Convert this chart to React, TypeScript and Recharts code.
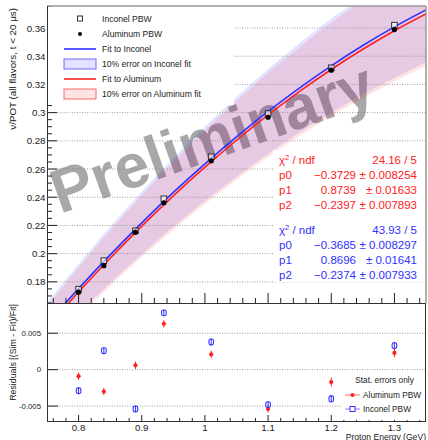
import React from 'react';
import {
  ComposedChart,
  Area,
  Line,
  Scatter,
  ErrorBar,
  XAxis,
  YAxis,
  ReferenceLine,
} from 'recharts';

// measured points
const energies = [0.8, 0.84, 0.89, 0.935, 1.01, 1.1, 1.2, 1.3];
const inconelYield = [0.1748, 0.195, 0.2162, 0.2389, 0.2687, 0.2994, 0.3318, 0.362];
const aluminumYield = [0.1727, 0.1915, 0.2151, 0.2361, 0.2658, 0.2967, 0.3301, 0.3589];
const inconelResidual = [-0.0029, 0.0026, -0.0054, 0.0078, 0.0038, -0.0048, -0.004, 0.0033];
const inconelResidualErr = [0.0004, 0.0004, 0.0004, 0.0004, 0.0005, 0.0005, 0.0005, 0.0005];
const aluminumResidual = [-0.0009, -0.003, 0.0006, 0.0063, 0.0021, -0.0054, -0.0017, 0.0023];
const aluminumResidualErr = [0.0005, 0.0005, 0.0005, 0.0005, 0.0005, 0.0005, 0.0006, 0.0006];

// fit curves
const fitEnergies = [0.75, 0.8, 0.85, 0.9, 0.95, 1.0, 1.05, 1.1, 1.15, 1.2, 1.25, 1.3, 1.35];
const inconelFit = [0.1502, 0.1752, 0.1991, 0.2218, 0.2434, 0.2637, 0.2828, 0.3008, 0.3176, 0.3332, 0.3476, 0.3608, 0.3728];
const aluminumFit = [0.1477, 0.1728, 0.1967, 0.2195, 0.241, 0.2613, 0.2804, 0.2984, 0.3151, 0.3306, 0.3449, 0.3581, 0.37];
const bandFraction = 0.1;

// fit results
const paramNames = ['p0', 'p1', 'p2'];
const aluminumChi2 = '24.16 / 5';
const aluminumParams = ['\u22120.3729', '0.8739', '\u22120.2397'];
const aluminumParamErrs = ['0.008254', '0.01633', '0.007893'];
const inconelChi2 = '43.93 / 5';
const inconelParams = ['\u22120.3685', '0.8696', '\u22120.2374'];
const inconelParamErrs = ['0.008297', '0.01641', '0.007933'];

// axes
const xMajorTicks = [0.8, 0.9, 1.0, 1.1, 1.2, 1.3];
const topYMajorTicks = [0.18, 0.2, 0.22, 0.24, 0.26, 0.28, 0.3, 0.32, 0.34, 0.36];
const resYMajorTicks = [-0.005, 0, 0.005];

const steps = (from: number, to: number, step: number) => {
  const out: number[] = [];
  for (let v = from; v <= to + 1e-9; v += step) out.push(Number(v.toFixed(4)));
  return out;
};
const xTicks = steps(0.76, 1.34, 0.02);
const topYTicks = steps(0.165, 0.375, 0.005);

const FONT = '"Liberation Sans", Arial, Helvetica, sans-serif';
const BLUE = '#3030ff';
const RED = '#ff2020';
const PL = 47;
const PR = 426;

const isMajor = (list: number[], v: number) => list.some((m) => Math.abs(m - v) < 1e-6);
const fmt = (v: number) => String(Number(v.toFixed(4)));

const fitRows = fitEnergies.map((x, i) => ({
  x,
  fi: inconelFit[i],
  fa: aluminumFit[i],
  iBand: [inconelFit[i] * (1 - bandFraction), inconelFit[i] * (1 + bandFraction)],
  aBand: [aluminumFit[i] * (1 - bandFraction), aluminumFit[i] * (1 + bandFraction)],
}));
const inconelRows = energies.map((x, i) => ({ x, y: inconelYield[i] }));
const aluminumRows = energies.map((x, i) => ({ x, y: aluminumYield[i] }));
const inconelResRows = energies.map((x, i) => ({ x, y: inconelResidual[i], err: inconelResidualErr[i] }));
const aluminumResRows = energies.map((x, i) => ({ x, y: aluminumResidual[i], err: aluminumResidualErr[i] }));

const TopXTick = (p: any) => {
  const major = isMajor(xMajorTicks, p.payload.value);
  return <line x1={p.x} x2={p.x} y1={303} y2={303 - (major ? 10 : 5)} stroke="#222" />;
};

const TopYTick = (p: any) => {
  const v = p.payload.value;
  const major = isMajor(topYMajorTicks, v);
  return (
    <g>
      <line x1={PL} x2={PL + (major ? 10 : 5)} y1={p.y} y2={p.y} stroke="#222" />
      {major && (
        <text x={45.5} y={p.y + 3.5} textAnchor="end" fontSize={9.7} fontFamily={FONT} fill="#222">
          {fmt(v)}
        </text>
      )}
    </g>
  );
};

const BottomXTick = (p: any) => {
  const v = p.payload.value;
  const major = isMajor(xMajorTicks, v);
  return (
    <g>
      <line x1={p.x} x2={p.x} y1={118} y2={118 - (major ? 6 : 3)} stroke="#222" />
      {major && (
        <text x={p.x} y={127.5} textAnchor="middle" fontSize={9.7} fontFamily={FONT} fill="#222">
          {fmt(v)}
        </text>
      )}
    </g>
  );
};

const ResYTick = (p: any) => (
  <g>
    <line x1={PL} x2={PL + 11} y1={p.y} y2={p.y} stroke="#222" />
    <text x={41} y={p.y + 2.8} textAnchor="end" fontSize={7.8} fontFamily={FONT} fill="#222">
      {fmt(p.payload.value)}
    </text>
  </g>
);

const OpenSquare = (p: any) => (
  <rect x={p.cx - 2.8} y={p.cy - 2.8} width={5.6} height={5.6} fill="#fff" fillOpacity={0.6} stroke="#333" strokeWidth={1} />
);
const BlackDot = (p: any) => <circle cx={p.cx} cy={p.cy} r={2.6} fill="#000" />;
const RedDot = (p: any) => <circle cx={p.cx} cy={p.cy} r={2.1} fill={RED} />;
const BlueSquare = (p: any) => (
  <rect x={p.cx - 2.3} y={p.cy - 2.9} width={4.6} height={5.8} rx={1.8} fill="none" stroke={BLUE} strokeWidth={1.1} />
);

const StatBox = ({ top, color, chi2, values, errs }: any) => (
  <g fontFamily={FONT} fontSize={11.5} fill={color}>
    <rect x={273} y={top - 10} width={153} height={62} fill="#fff" />
    <text x={279} y={top + 4}>
      {'\u03c7'}
      <tspan dy={-4} fontSize={7.5}>2</tspan>
      <tspan dy={4}> / ndf</tspan>
    </text>
    <text x={417} y={top + 4} textAnchor="end">{chi2}</text>
    {paramNames.map((n, i) => (
      <g key={n}>
        <text x={279} y={top + 19 + i * 15}>{n}</text>
        <text x={356} y={top + 19 + i * 15} textAnchor="end">{values[i]}</text>
        <text x={417} y={top + 19 + i * 15} textAnchor="end">{'\u00b1 ' + errs[i]}</text>
      </g>
    ))}
  </g>
);

export default function App() {
  return (
    <div style={{ position: 'fixed', left: 0, top: 0, width: 428, height: 440, background: '#fff', overflow: 'hidden' }}>
      <div style={{ position: 'absolute', left: 0, top: 0 }}>
        <ComposedChart width={428} height={304} data={fitRows} margin={{ top: 6, right: 2, bottom: 0, left: 0 }}>
          <XAxis
            type="number"
            dataKey="x"
            domain={[0.75, 1.35]}
            allowDataOverflow
            ticks={xTicks}
            interval={0}
            height={1}
            axisLine={false}
            tickLine={false}
            tick={(p: any) => <TopXTick {...p} />}
          />
          <YAxis
            type="number"
            domain={[0.165, 0.3756]}
            allowDataOverflow
            ticks={topYTicks}
            interval={0}
            width={47}
            axisLine={false}
            tickLine={false}
            tick={(p: any) => <TopYTick {...p} />}
          />
          <Area dataKey="iBand" type="monotone" stroke="none" fill="#0000ff" fillOpacity={0.11} dot={false} activeDot={false} isAnimationActive={false} />
          <Area dataKey="aBand" type="monotone" stroke="none" fill="#ff0000" fillOpacity={0.11} dot={false} activeDot={false} isAnimationActive={false} />
          {topYMajorTicks.map((v) => (
            <ReferenceLine key={v} y={v} stroke="#888" strokeDasharray="1 1.5" strokeWidth={0.8} />
          ))}
          <text
            x={60}
            y={214}
            transform="rotate(-19.5 60 214)"
            fontSize={62}
            fontWeight="bold"
            fontFamily={FONT}
            fill="#a8a8a8"
          >
            Preliminary
          </text>
          <Line dataKey="fi" type="monotone" stroke={BLUE} strokeWidth={1.6} dot={false} activeDot={false} isAnimationActive={false} />
          <Line dataKey="fa" type="monotone" stroke={RED} strokeWidth={1.6} dot={false} activeDot={false} isAnimationActive={false} />
          <Scatter data={inconelRows} dataKey="y" shape={OpenSquare} isAnimationActive={false} />
          <Scatter data={aluminumRows} dataKey="y" shape={BlackDot} isAnimationActive={false} />
        </ComposedChart>
      </div>

      <div style={{ position: 'absolute', left: 0, top: 303 }}>
        <ComposedChart width={428} height={137} margin={{ top: 0, right: 2, bottom: 0, left: 0 }}>
          <XAxis
            type="number"
            dataKey="x"
            domain={[0.75, 1.35]}
            allowDataOverflow
            ticks={xTicks}
            interval={0}
            height={19}
            axisLine={false}
            tickLine={false}
            tick={(p: any) => <BottomXTick {...p} />}
          />
          <YAxis
            type="number"
            domain={[-0.00705, 0.00915]}
            allowDataOverflow
            ticks={resYMajorTicks}
            interval={0}
            width={47}
            axisLine={false}
            tickLine={false}
            tick={(p: any) => <ResYTick {...p} />}
          />
          {resYMajorTicks.map((v) => (
            <ReferenceLine key={v} y={v} stroke="#888" strokeDasharray="1 1.5" strokeWidth={0.8} />
          ))}
          <Scatter data={aluminumResRows} dataKey="y" shape={RedDot} isAnimationActive={false}>
            <ErrorBar dataKey="err" direction="y" width={0} stroke={RED} strokeWidth={1} />
          </Scatter>
          <Scatter data={inconelResRows} dataKey="y" shape={BlueSquare} isAnimationActive={false}>
            <ErrorBar dataKey="err" direction="y" width={0} stroke={BLUE} strokeWidth={1} />
          </Scatter>
        </ComposedChart>
      </div>

      <svg width={428} height={440} style={{ position: 'absolute', left: 0, top: 0, pointerEvents: 'none' }}>
        {/* top legend */}
        <rect x={48} y={7} width={186} height={98} fill="#fff" />
        <g fontFamily={FONT} fontSize={8.6} fill="#222">
          <rect x={77.5} y={16} width={5} height={5} fill="none" stroke="#333" />
          <text x={102} y={21.5}>Inconel PBW</text>
          <circle cx={80} cy={34} r={2} fill="#000" />
          <text x={102} y={37}>Aluminum PBW</text>
          <line x1={64} x2={96} y1={49} y2={49} stroke={BLUE} strokeWidth={1.6} />
          <text x={102} y={52}>Fit to Inconel</text>
          <rect x={64} y={59} width={32} height={10} fill="#0000ff" fillOpacity={0.11} stroke="#6a6aff" />
          <text x={102} y={67}>10% error on Inconel fit</text>
          <line x1={64} x2={96} y1={79} y2={79} stroke={RED} strokeWidth={1.6} />
          <text x={102} y={82}>Fit to Aluminum</text>
          <rect x={64} y={89} width={32} height={10} fill="#ff0000" fillOpacity={0.11} stroke="#ff6a6a" />
          <text x={102} y={97}>10% error on Aluminum fit</text>
        </g>

        <StatBox top={160} color={RED} chi2={aluminumChi2} values={aluminumParams} errs={aluminumParamErrs} />
        <StatBox top={230} color={BLUE} chi2={inconelChi2} values={inconelParams} errs={inconelParamErrs} />

        {/* residual legend */}
        <rect x={342} y={373} width={84} height={47} fill="#fff" />
        <g fontFamily={FONT} fontSize={8.3} fill="#222">
          <text x={384.5} y={383} textAnchor="middle">Stat. errors only</text>
          <line x1={345} x2={360} y1={395} y2={395} stroke="#ff7070" />
          <circle cx={352.5} cy={395} r={2} fill={RED} />
          <text x={363} y={398}>Aluminum PBW</text>
          <line x1={345} x2={360} y1={409} y2={409} stroke="#8080ff" />
          <rect x={350} y={406.5} width={5} height={5} fill="#fff" stroke={BLUE} />
          <text x={363} y={412}>Inconel PBW</text>
        </g>

        {/* frames */}
        <line x1={PL} x2={PR} y1={6} y2={6} stroke="#999" strokeWidth={1.5} />
        <line x1={PR} x2={PR} y1={6} y2={303} stroke="#999" strokeWidth={1.5} />
        <line x1={PL + 0.5} x2={PL + 0.5} y1={6} y2={421.5} stroke="#333" />
        <line x1={PL} x2={PR} y1={303.5} y2={303.5} stroke="#333" />
        <line x1={PL} x2={PR} y1={421.5} y2={421.5} stroke="#333" />
        <line x1={PR - 0.5} x2={PR - 0.5} y1={303} y2={421.5} stroke="#333" />

        {/* axis titles */}
        <g fontFamily={FONT} fill="#222">
          <text x={0} y={0} fontSize={9.8} textAnchor="end" transform="translate(15.5 8) rotate(-90)">
            {'\u03bd/POT (all flavors, t < 20 \u03bcs)'}
          </text>
          <text x={0} y={0} fontSize={8.8} textAnchor="end" transform="translate(16 304) rotate(-90)">
            Residuals [(Sim - Fit)/Fit]
          </text>
          <text x={426} y={439.5} fontSize={8.6} textAnchor="end">
            Proton Energy (GeV)
          </text>
        </g>
      </svg>
    </div>
  );
}
